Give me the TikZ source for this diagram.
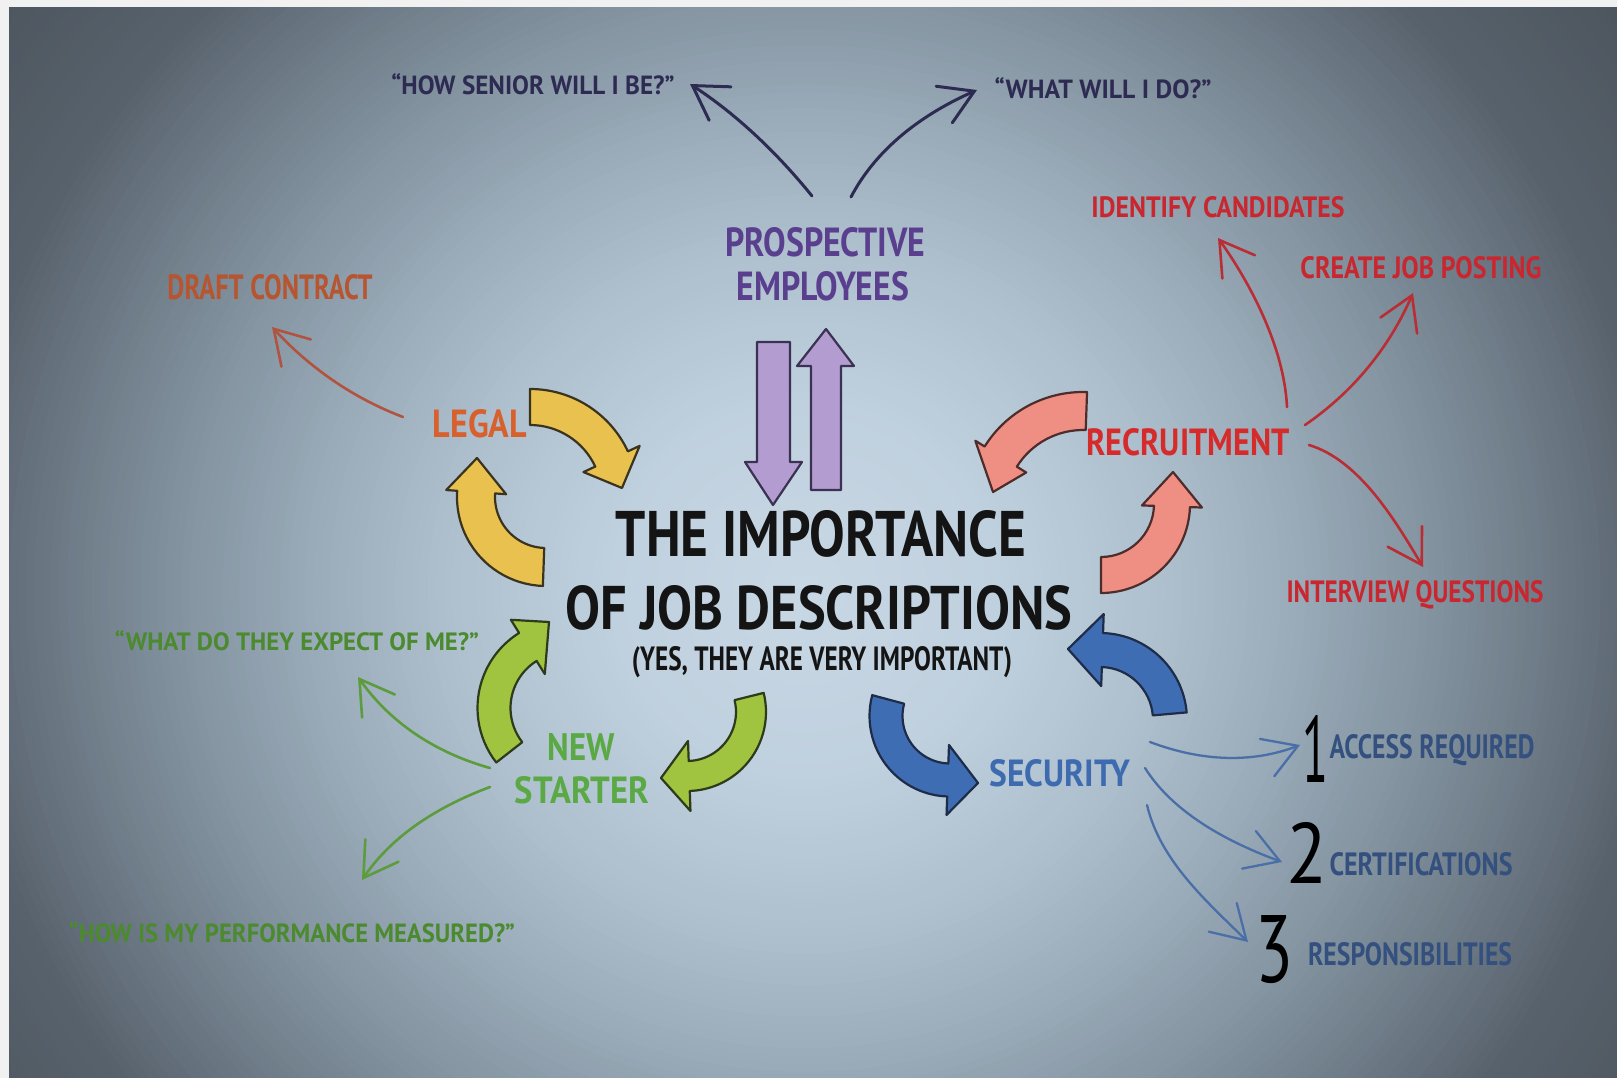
\documentclass[tikz,border=0pt]{standalone}
\usepackage{fontspec}
\usepackage{graphicx}
\setmainfont{PT Sans}
\usetikzlibrary{arrows.meta,calc}

% palette
\definecolor{paper}{HTML}{F1F1F1}
\definecolor{bgA}{HTML}{C8D7E4}
\definecolor{bgB}{HTML}{BFD0DE}
\definecolor{bgC}{HTML}{AEC0CE}
\definecolor{bgD}{HTML}{9AABB9}
\definecolor{bgE}{HTML}{8494A1}
\definecolor{bgF}{HTML}{6C7985}
\definecolor{bgG}{HTML}{58626C}
\definecolor{bgH}{HTML}{3E454D}
\definecolor{navyq}{HTML}{2D2B52}
\definecolor{purpT}{HTML}{5A3F8E}
\definecolor{purpFill}{HTML}{B39CCF}
\definecolor{purpLine}{HTML}{3B3152}
\definecolor{legalT}{HTML}{D8602C}
\definecolor{draftT}{HTML}{B6552F}
\definecolor{draftLn}{HTML}{B05440}
\definecolor{ylwFill}{HTML}{E9C14E}
\definecolor{ylwLine}{HTML}{3A3320}
\definecolor{pnkFill}{HTML}{EF8E82}
\definecolor{pnkLine}{HTML}{4D2C2C}
\definecolor{recT}{HTML}{D52B2B}
\definecolor{recSub}{HTML}{C9272F}
\definecolor{recLn}{HTML}{B92D34}
\definecolor{bluFill}{HTML}{3E6DB4}
\definecolor{bluLine}{HTML}{1F2C48}
\definecolor{secT}{HTML}{3E6BB0}
\definecolor{secLn}{HTML}{4A6FA7}
\definecolor{secSub}{HTML}{34507E}
\definecolor{grnFill}{HTML}{A0C340}
\definecolor{grnLine}{HTML}{2D3A1C}
\definecolor{nsT}{HTML}{5AA945}
\definecolor{qGreen}{HTML}{4B8A2E}
\definecolor{grnLn}{HTML}{5C9C3C}
\definecolor{titleT}{HTML}{141414}

% text squeezed to a given width and cap height (in pt = px)
\newcommand\fitto[3]{\resizebox{#1pt}{#2pt}{#3}}

% curved block arrow: style, centre x, centre y, radius, start angle,
% angle of the head base, half shaft width, half head width, tip
\newcommand\bentarrow[9]{%
  \pgfmathsetmacro\bro{#4+#7}\pgfmathsetmacro\bri{#4-#7}%
  \pgfmathsetmacro\bho{#4+#8}\pgfmathsetmacro\bhi{#4-#8}%
  \filldraw[#1] ($(#2,#3)+(#5:\bro)$) arc[start angle=#5,end angle=#6,radius=\bro]
    -- ($(#2,#3)+(#6:\bho)$) -- (#9) -- ($(#2,#3)+(#6:\bhi)$)
    -- ($(#2,#3)+(#6:\bri)$) arc[start angle=#6,end angle=#5,radius=\bri] -- cycle;}

\tikzset{
  lbl/.style={inner sep=0pt, anchor=base, font=\bfseries},
  num/.style={inner sep=0pt, anchor=base, font=\mdseries, text=black},
  link/.style={line width=#1, line cap=round, line join=round,
    -{Straight Barb[length=33pt,width=40pt,line cap=round]}},
  link/.default=2.6pt,
  block/.style={line width=2.2pt, line join=round},
  ylw/.style={block, fill=ylwFill, draw=ylwLine},
  pnk/.style={block, fill=pnkFill, draw=pnkLine},
  blu/.style={block, fill=bluFill, draw=bluLine},
  grn/.style={block, fill=grnFill, draw=grnLine},
  prp/.style={block, fill=purpFill, draw=purpLine},
}

\begin{document}
\begin{tikzpicture}[x=1pt,y=-1pt]
\useasboundingbox (0,0) rectangle (1617,1078);

% backdrop: light glow behind the title fading to dark edges,
% built from nested ellipses (k = percent of the distance to the side edges)
\fill[paper] (0,0) rectangle (1617,1078);
\begin{scope}
  \clip (9,8) rectangle (1617,1078);
  \fill[bgH] (9,8) rectangle (1617,1078);
  \foreach \ra/\rb/\ca/\cb in {104/150/bgG/bgH, 92/104/bgF/bgG, 76/92/bgE/bgF,
      60/76/bgD/bgE, 44/60/bgC/bgD, 24/44/bgB/bgC, 1/24/bgA/bgB}{
    \foreach \k in {\rb,...,\ra}{
      \pgfmathtruncatemacro\pp{100*(\k-\ra)/(\rb-\ra)}
      \fill[\cb!\pp!\ca] (805,590) ellipse [x radius={8.2*\k}, y radius={7.9*\k}];
    }
  }
\end{scope}

% ---------- labels ----------
\node[lbl,text=titleT] (title1) at (821,556) {\fitto{410}{46}{THE IMPORTANCE}};
\node[lbl,text=titleT] (title2) at (819,629) {\fitto{507}{44}{OF JOB DESCRIPTIONS}};
\node[lbl,text=titleT] (title3) at (822,670) {\fitto{380}{24}{(YES, THEY ARE VERY IMPORTANT)}};

\node[lbl,text=navyq] (senior) at (533,95) {\fitto{283}{21}{``HOW SENIOR WILL I BE?''}};
\node[lbl,text=navyq] (whatdo) at (1103,99) {\fitto{217}{21}{``WHAT WILL I DO?''}};
\node[lbl,text=purpT] (prosp1) at (825,257) {\fitto{200}{29}{PROSPECTIVE}};
\node[lbl,text=purpT] (prosp2) at (823,300) {\fitto{172}{29}{EMPLOYEES}};

\node[lbl,text=legalT] (legal) at (480,437) {\fitto{94}{28}{LEGAL}};
\node[lbl,text=draftT] (draft) at (270,299) {\fitto{205}{25}{DRAFT CONTRACT}};

\node[lbl,text=recT] (recruit) at (1188,455) {\fitto{203}{27}{RECRUITMENT}};
\node[lbl,text=recSub] (identify) at (1218,218) {\fitto{253}{21}{IDENTIFY CANDIDATES}};
\node[lbl,text=recSub] (create) at (1421,278) {\fitto{241}{22}{CREATE JOB POSTING}};
\node[lbl,text=recSub] (interview) at (1415,602) {\fitto{257}{22}{INTERVIEW QUESTIONS}};

\node[lbl,text=secT] (security) at (1060,786) {\fitto{141}{27}{SECURITY}};
\node[num] (n1) at (1315,782) {\fitto{26}{67}{1}};
\node[num] (n2) at (1307,883) {\fitto{41}{61}{2}};
\node[num] (n3) at (1274,982) {\fitto{38}{67}{3}};
\node[lbl,text=secSub] (access) at (1432,758) {\fitto{205}{24}{ACCESS REQUIRED}};
\node[lbl,text=secSub] (cert) at (1421,875) {\fitto{183}{23}{CERTIFICATIONS}};
\node[lbl,text=secSub] (resp) at (1410,965) {\fitto{204}{23}{RESPONSIBILITIES}};

\node[lbl,text=nsT] (new) at (581,760) {\fitto{67}{27}{NEW}};
\node[lbl,text=nsT] (starter) at (582,803) {\fitto{134}{27}{STARTER}};
\node[lbl,text=qGreen] (expect) at (297,650) {\fitto{364}{20}{``WHAT DO THEY EXPECT OF ME?''}};
\node[lbl,text=qGreen] (measured) at (292,942) {\fitto{446}{21}{``HOW IS MY PERFORMANCE MEASURED?''}};

% ---------- block arrows ----------
% prospective employees
\filldraw[prp] (757,342) -- (790,342) -- (790,462) -- (802,462) -- (773,505)
  -- (745,462) -- (757,462) -- cycle;
\filldraw[prp] (811,490) -- (841,490) -- (841,366) -- (854,366) -- (826,329)
  -- (797,366) -- (811,366) -- cycle;
% legal
\bentarrow{ylw}{530}{497}{90}{-90}{-25}{18}{31}{622,488}
\bentarrow{ylw}{546}{497}{70}{92}{184}{19}{30}{477,458}
% recruitment
\bentarrow{pnk}{1083}{508}{97}{272}{212}{19}{30}{993,492}
\bentarrow{pnk}{1101}{504}{71}{90}{2}{18}{30}{1173,472}
% security
\bentarrow{blu}{1100}{720}{70}{-5}{-88}{17}{36}{1068,649}
\bentarrow{blu}{950}{716}{64}{195}{92}{16.5}{35}{978,783}
% new starter
\bentarrow{grn}{687}{712}{64}{-14}{88}{15}{35}{661,778}
\bentarrow{grn}{566}{708}{72}{142}{238}{16.5}{32}{549,622}

% ---------- thin connectors ----------
\coordinate (pe-l) at (812,196);  \coordinate (senior-t) at (690,84);
\coordinate (pe-r) at (851,197);  \coordinate (whatdo-t) at (977,90);
\coordinate (lg-s) at (403,417);  \coordinate (draft-t) at (272,327);
\coordinate (rc-1) at (1287,407); \coordinate (identify-t) at (1218,238);
\coordinate (rc-2) at (1305,425); \coordinate (create-t) at (1413,293);
\coordinate (rc-3) at (1309,445); \coordinate (interview-t) at (1423,567);
\coordinate (ns-1) at (490,768);  \coordinate (expect-t) at (358,677);
\coordinate (ns-2) at (490,787);  \coordinate (measured-t) at (362,880);
\coordinate (sc-1) at (1150,742); \coordinate (n1-t) at (1300,745);
\coordinate (sc-2) at (1145,768); \coordinate (n2-t) at (1282,862);
\coordinate (sc-3) at (1147,805); \coordinate (n3-t) at (1248,942);

\draw[link=3pt,navyq] (pe-l) .. controls (774,149) and (733,112) .. (senior-t);
\draw[link=3pt,navyq] (pe-r) .. controls (874,153) and (916,117) .. (whatdo-t);
\draw[link,draftLn] (lg-s) .. controls (353,398) and (310,368) .. (draft-t);
\draw[link,recLn] (rc-1) .. controls (1284,345) and (1248,280) .. (identify-t);
\draw[link,recLn] (rc-2) .. controls (1353,392) and (1389,348) .. (create-t);
\draw[link,recLn] (rc-3) .. controls (1359,460) and (1395,520) .. (interview-t);
\draw[link,grnLn] (ns-1) .. controls (433,752) and (389,721) .. (expect-t);
\draw[link,grnLn] (ns-2) .. controls (431,809) and (389,840) .. (measured-t);
\draw[link=2.3pt,secLn] (sc-1) .. controls (1203,762) and (1253,763) .. (n1-t);
\draw[link=2.3pt,secLn] (sc-2) .. controls (1169,806) and (1214,837) .. (n2-t);
\draw[link=2.3pt,secLn] (sc-3) .. controls (1160,860) and (1205,900) .. (n3-t);
\end{tikzpicture}
\end{document}
